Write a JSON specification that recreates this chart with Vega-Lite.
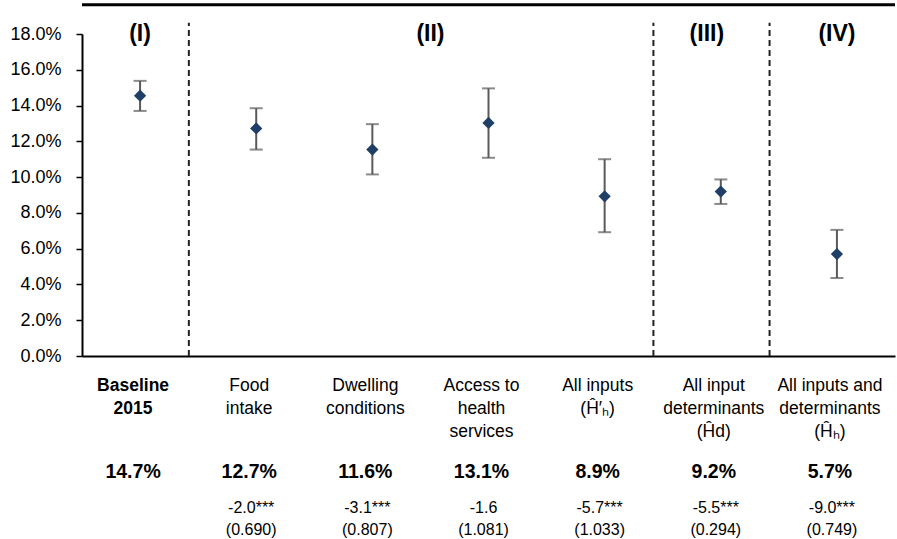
{
  "$schema": "https://vega.github.io/schema/vega-lite/v6.json",
  "padding": {"left": 9, "top": 3, "right": 0, "bottom": 0},
  "background": "white",
  "config": {"view": {"stroke": null}, "font": "Liberation Sans"},
  "bounds": "flush",
  "spacing": 116,
  "resolve": {"scale": {"y": "independent"}, "axis": {"y": "independent"}},
  "datasets": {
    "est": [
      {"cat": "Baseline|2015", "est": 0.1455, "lo": 0.1370, "hi": 0.1538},
      {"cat": "Food|intake", "est": 0.1272, "lo": 0.1154, "hi": 0.1385},
      {"cat": "Dwelling|conditions", "est": 0.1154, "lo": 0.1015, "hi": 0.1296},
      {"cat": "Access to|health|services", "est": 0.1303, "lo": 0.1108, "hi": 0.1496},
      {"cat": "All inputs|(Ĥ′ₕ)", "est": 0.0893, "lo": 0.0692, "hi": 0.1100},
      {"cat": "All input|determinants|(Ĥd)", "est": 0.0919, "lo": 0.0850, "hi": 0.0987},
      {"cat": "All inputs and|determinants|(Ĥₕ)", "est": 0.0570, "lo": 0.0436, "hi": 0.0705}
    ],
    "table": [
      {"cat": "Baseline|2015", "row": "est", "txt": "14.7%"},
      {"cat": "Food|intake", "row": "est", "txt": "12.7%"},
      {"cat": "Dwelling|conditions", "row": "est", "txt": "11.6%"},
      {"cat": "Access to|health|services", "row": "est", "txt": "13.1%"},
      {"cat": "All inputs|(Ĥ′ₕ)", "row": "est", "txt": "8.9%"},
      {"cat": "All input|determinants|(Ĥd)", "row": "est", "txt": "9.2%"},
      {"cat": "All inputs and|determinants|(Ĥₕ)", "row": "est", "txt": "5.7%"},
      {"cat": "Food|intake", "row": "sub", "txt": ["-2.0***", "(0.690)"]},
      {"cat": "Dwelling|conditions", "row": "sub", "txt": ["-3.1***", "(0.807)"]},
      {"cat": "Access to|health|services", "row": "sub", "txt": ["-1.6", "(1.081)"]},
      {"cat": "All inputs|(Ĥ′ₕ)", "row": "sub", "txt": ["-5.7***", "(1.033)"]},
      {"cat": "All input|determinants|(Ĥd)", "row": "sub", "txt": ["-5.5***", "(0.294)"]},
      {"cat": "All inputs and|determinants|(Ĥₕ)", "row": "sub", "txt": ["-9.0***", "(0.749)"]}
    ],
    "dividers": [
      {"cat": "Baseline|2015"},
      {"cat": "All inputs|(Ĥ′ₕ)"},
      {"cat": "All input|determinants|(Ĥd)"}
    ],
    "sections": [
      {"cat": "Baseline|2015", "lab": "(I)"},
      {"cat": "Access to|health|services", "lab": "(II)"},
      {"cat": "All input|determinants|(Ĥd)", "lab": "(III)"},
      {"cat": "All inputs and|determinants|(Ĥₕ)", "lab": "(IV)"}
    ]
  },
  "vconcat": [
    {
      "width": 813,
      "height": 322,
      "data": {"name": "est"},
      "encoding": {
        "x": {
          "field": "cat",
          "type": "nominal",
          "sort": null,
          "scale": {
            "domain": ["Baseline|2015", "Food|intake", "Dwelling|conditions", "Access to|health|services", "All inputs|(Ĥ′ₕ)", "All input|determinants|(Ĥd)", "All inputs and|determinants|(Ĥₕ)"],
            "paddingInner": 0,
            "paddingOuter": 0
          },
          "axis": {
            "title": null,
            "labelAngle": 0,
            "ticks": false,
            "tickSize": 0,
            "domainColor": "black",
            "domainWidth": 2,
            "labelExpr": "split(datum.label, '|')",
            "labelLineHeight": 23,
            "labelFontSize": 17.5,
            "labelFont": "Liberation Sans",
            "labelColor": "black",
            "labelPadding": 20,
            "labelBaseline": "top",
            "labelOffset": -7,
            "labelOverlap": false,
            "labelLimit": 0,
            "labelFontWeight": {"condition": {"test": "indexof(datum.value, 'Baseline') == 0", "value": "bold"}, "value": "normal"}
          }
        },
        "y": {
          "type": "quantitative",
          "scale": {"domain": [0, 0.18], "nice": false, "zero": true},
          "axis": {
            "title": null,
            "values": [0, 0.02, 0.04, 0.06, 0.08, 0.1, 0.12, 0.14, 0.16, 0.18],
            "tickCount": 10,
            "format": ".1%",
            "grid": false,
            "domainColor": "black",
            "domainWidth": 2,
            "tickColor": "black",
            "tickWidth": 1.5,
            "tickSize": 6,
            "labelFontSize": 18,
            "labelFont": "Liberation Sans",
            "labelColor": "black",
            "labelPadding": 15,
            "labelOverlap": false
          }
        }
      },
      "layer": [
        {
          "mark": {"type": "rule", "strokeWidth": 2, "color": "#5a5a5a"},
          "encoding": {"y": {"field": "lo"}, "y2": {"field": "hi"}}
        },
        {
          "mark": {"type": "tick", "size": 13, "thickness": 2, "color": "#5a5a5a"},
          "encoding": {"y": {"field": "lo"}}
        },
        {
          "mark": {"type": "tick", "size": 13, "thickness": 2, "color": "#5a5a5a"},
          "encoding": {"y": {"field": "hi"}}
        },
        {
          "mark": {"type": "point", "shape": "diamond", "filled": true, "size": 150, "color": "#1F3F66", "opacity": 1},
          "encoding": {"y": {"field": "est"}}
        },
        {
          "data": {"values": [{"k": 1}]},
          "mark": {"type": "rule", "strokeWidth": 3, "color": "black"},
          "encoding": {"x": null, "y": {"datum": 0.1963}}
        },
        {
          "data": {"name": "dividers"},
          "mark": {"type": "rule", "strokeWidth": 2, "color": "#222222", "strokeDash": [6, 4]},
          "encoding": {
            "x": {"field": "cat", "type": "nominal", "bandPosition": 0.92},
            "y": {"datum": 0},
            "y2": {"datum": 0.1863}
          }
        },
        {
          "data": {"name": "sections"},
          "transform": [{"filter": "datum.lab == '(I)' || datum.lab == '(IV)'"}],
          "mark": {"type": "text", "fontWeight": "bold", "fontSize": 23, "baseline": "middle", "color": "black"},
          "encoding": {"y": {"datum": 0.18}, "text": {"field": "lab"}}
        },
        {
          "data": {"name": "sections"},
          "transform": [{"filter": "datum.lab == '(II)'"}],
          "mark": {"type": "text", "fontWeight": "bold", "fontSize": 23, "baseline": "middle", "color": "black"},
          "encoding": {
            "x": {"field": "cat", "type": "nominal", "bandPosition": 0},
            "y": {"datum": 0.18},
            "text": {"field": "lab"}
          }
        },
        {
          "data": {"name": "sections"},
          "transform": [{"filter": "datum.lab == '(III)'"}],
          "mark": {"type": "text", "fontWeight": "bold", "fontSize": 23, "baseline": "middle", "color": "black"},
          "encoding": {
            "x": {"field": "cat", "type": "nominal", "bandPosition": 0.38},
            "y": {"datum": 0.18},
            "text": {"field": "lab"}
          }
        }
      ]
    },
    {
      "width": 813,
      "height": 36,
      "data": {"name": "table"},
      "encoding": {
        "x": {
          "field": "cat",
          "type": "nominal",
          "sort": null,
          "scale": {
            "domain": ["Baseline|2015", "Food|intake", "Dwelling|conditions", "Access to|health|services", "All inputs|(Ĥ′ₕ)", "All input|determinants|(Ĥd)", "All inputs and|determinants|(Ĥₕ)"],
            "paddingInner": 0,
            "paddingOuter": 0
          },
          "axis": null
        },
        "y": {
          "field": "row",
          "type": "ordinal",
          "scale": {"type": "point", "domain": ["est", "sub"], "padding": 0},
          "axis": null
        },
        "text": {"field": "txt", "type": "nominal"}
      },
      "layer": [
        {
          "transform": [{"filter": "datum.row == 'est'"}],
          "mark": {"type": "text", "fontWeight": "bold", "fontSize": 19.5, "baseline": "middle", "color": "black", "dx": -7}
        },
        {
          "transform": [{"filter": "datum.row == 'sub'"}],
          "mark": {"type": "text", "fontSize": 16, "baseline": "middle", "lineHeight": 22, "color": "black", "dx": -5}
        }
      ]
    }
  ]
}
